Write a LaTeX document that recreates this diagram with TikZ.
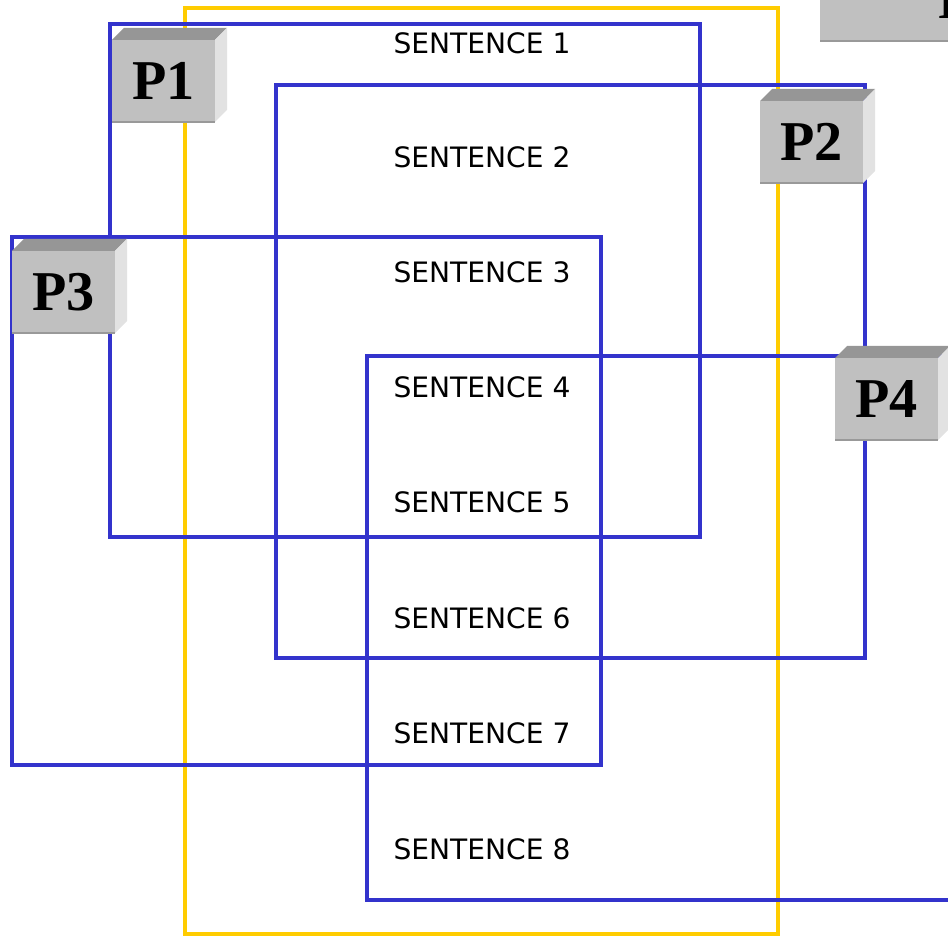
\documentclass[tikz,border=0pt]{standalone}
\usepackage{fontspec}
\setmainfont{DejaVu Sans}
\newfontfamily\boxfont{Liberation Serif}[BoldFont={Liberation Serif Bold}]
\usepackage{xcolor}
\usepackage{tikz}

\definecolor{parblue}{RGB}{51,51,204}
\definecolor{docyellow}{RGB}{255,204,0}
\definecolor{cubefrontc}{RGB}{192,192,192}
\definecolor{cubetopc}{RGB}{150,150,150}
\definecolor{cubesidec}{RGB}{226,226,226}

\tikzset{
  doc/.style={draw=docyellow, line width=2.3pt},
  para/.style={draw=parblue, line width=2.3pt},
  sentence/.style={font=\fontsize{16}{18}\selectfont, inner sep=0pt},
  cubefront/.style={fill=cubefrontc, minimum width=2.06cm, minimum height=1.64cm,
    inner sep=0pt, font=\boxfont\bfseries\fontsize{32}{34}\selectfont},
}

% cube label: name, x, y of front top-left corner, text
\newcommand{\cube}[4]{%
  \fill[cubetopc] (#2,#3) -- ++(12,-12) -- ++(103,0) -- ++(-12,12) -- cycle;
  \fill[cubesidec] (#2+103,#3) -- ++(12,-12) -- ++(0,82) -- ++(-12,12) -- cycle;
  \node[cubefront] (#1) at (#2+51.5,#3+41) {#4};
  \draw[gray!80, line width=0.8pt] (#2,#3+82) -- ++(103,0);
}

\begin{document}
\begin{tikzpicture}[x=0.02cm, y=-0.02cm]
\clip (0,0) rectangle (948,936);

% the document
\draw[doc] (185,8) rectangle (778,934);

% paragraphs
\draw[para] (110,24) rectangle (700,537);
\draw[para] (276,85) rectangle (865,658);
\draw[para] (12,237) rectangle (601,765);
\draw[para] (367,356) rectangle (1100,900);

% sentences
\foreach \i/\y in {1/43,2/157,3/272,4/387,5/502,6/618,7/733,8/849}
  \node[sentence] (s\i) at (482,\y) {SENTENCE \i};

% paragraph labels
\cube{p1}{112}{40}{P1}
\cube{p2}{760}{101}{P2}
\cube{p3}{12}{251}{P3}
\cube{p4}{835}{358}{P4}

% cut off label at the top
\fill[cubefrontc] (820,-60) rectangle (1130,40);
\draw[gray!80, line width=0.8pt] (820,41) -- (1130,41);
\node[font=\boxfont\bfseries\fontsize{32}{34}\selectfont, anchor=west, inner sep=0pt] (p5) at (938,0) {P5};
\end{tikzpicture}
\end{document}
